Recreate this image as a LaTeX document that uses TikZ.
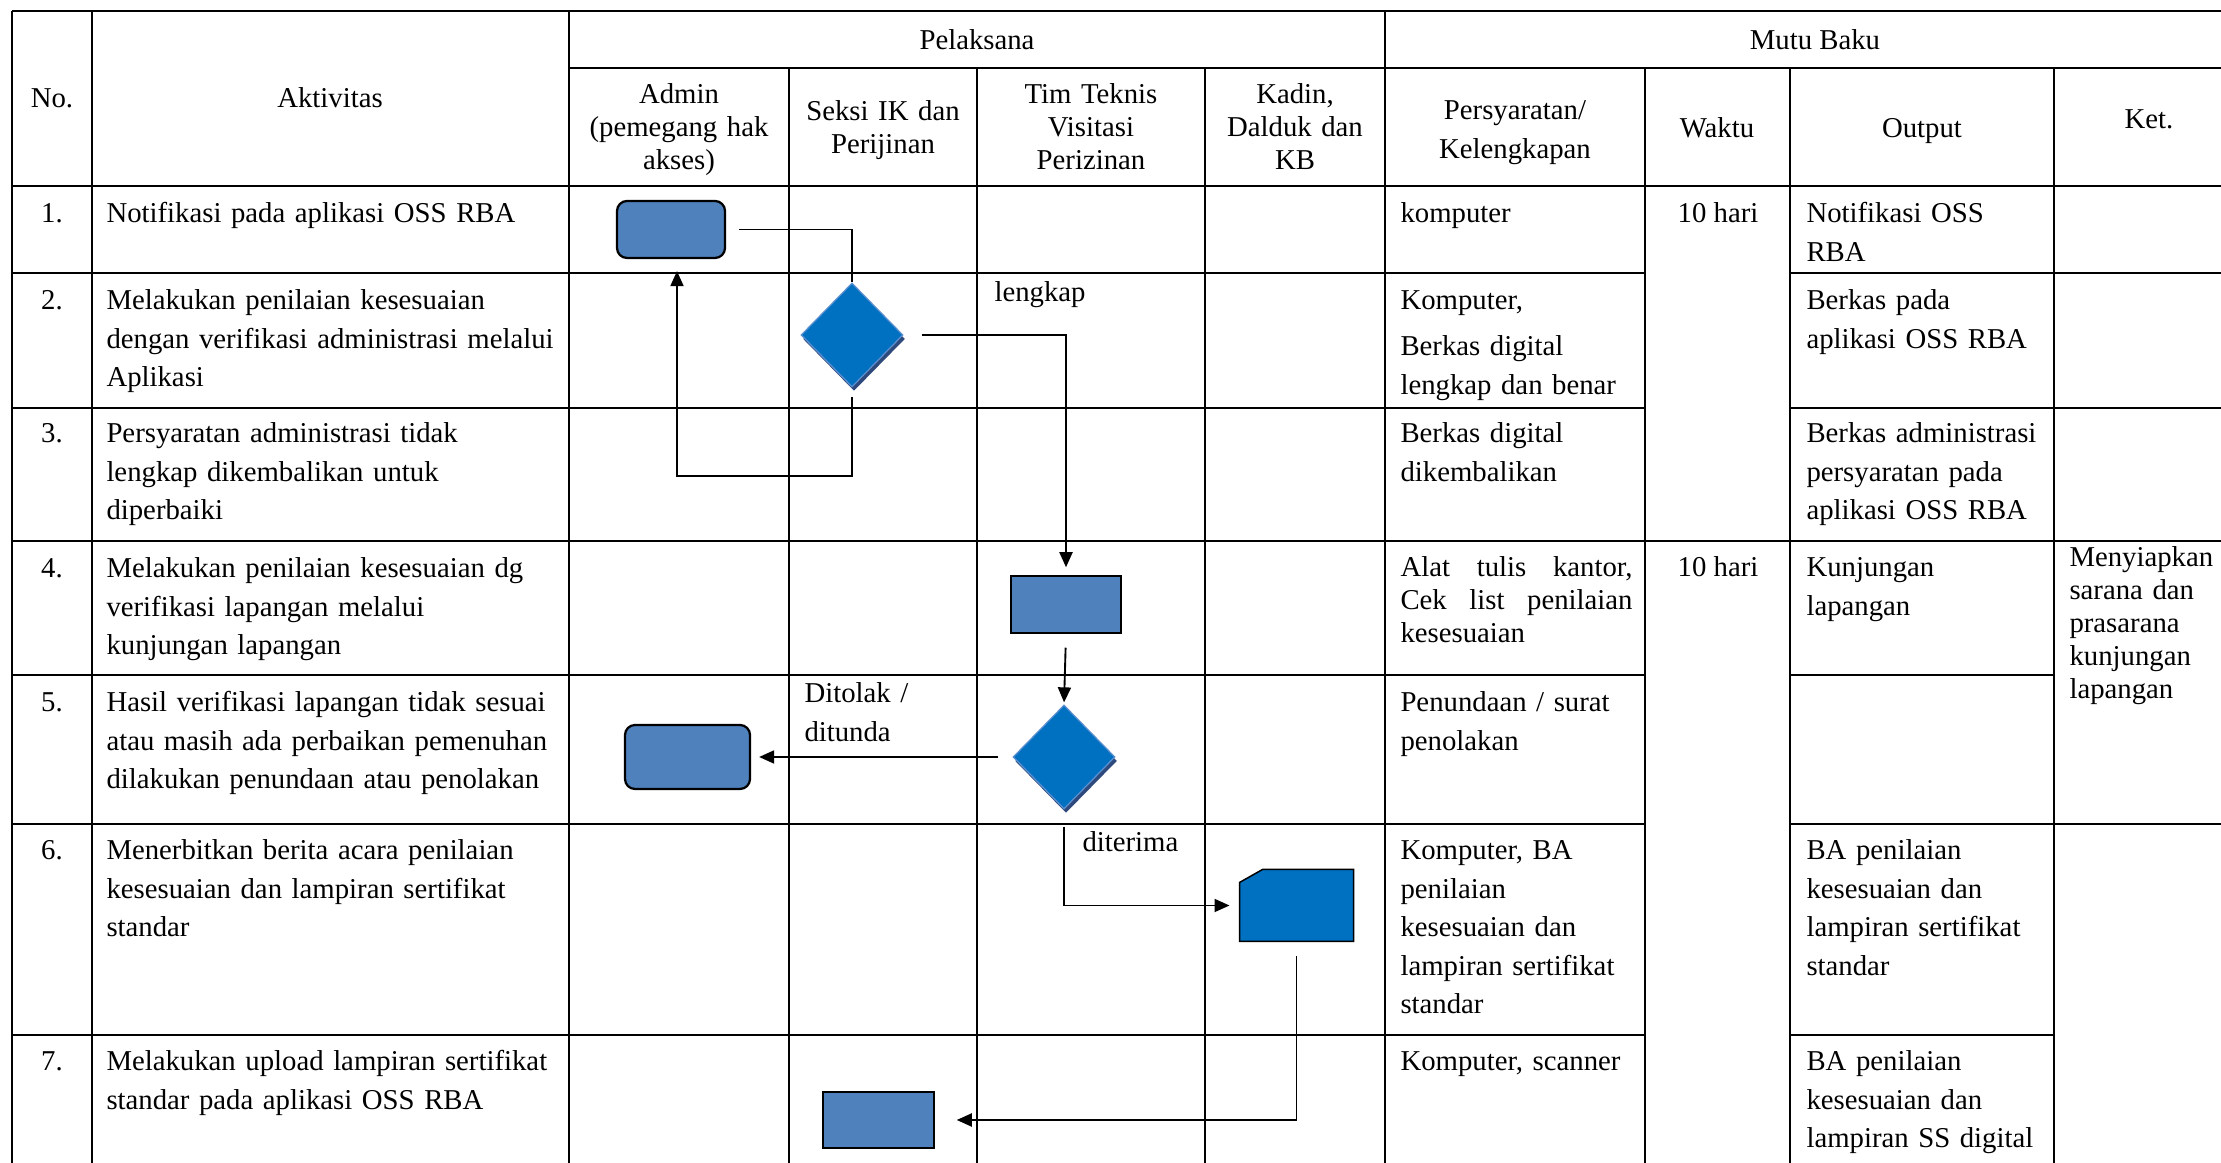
\documentclass[tikz,border=0pt]{standalone}
\usepackage{fontspec}
\setmainfont{Liberation Serif}
\usetikzlibrary{positioning,arrows.meta,shapes.geometric,shadows,calc}

\definecolor{boxblue}{HTML}{4F81BD}
\definecolor{diablue}{HTML}{0070C0}
\definecolor{diaedge}{HTML}{5B8FCF}
\definecolor{diashade}{HTML}{2E4A7D}

\tikzset{
  txt/.style={inner sep=0pt, font=\fontsize{11.5}{15.4}\selectfont},
  cell/.style={txt, anchor=base west, text width=200pt, align=left},
  head/.style={txt, anchor=base, text width=110pt, align=center},
  tight/.style={font=\fontsize{11.5}{13.2}\selectfont},
  hrule/.style={line width=0.9pt},
  vrule/.style={line width=0.5pt},
  flow/.style={line width=0.75pt},
  process/.style={rectangle, draw=black, line width=0.6pt, fill=boxblue, inner sep=0pt},
  terminal/.style={process, rounded corners=4pt, line width=0.9pt},
  decision/.style={diamond, inner sep=0pt, minimum width=40.8pt, minimum height=41.6pt,
    fill=diablue, draw=diaedge, line width=0.5pt,
    general shadow={shadow xshift=0.8pt, shadow yshift=-1.6pt, fill=diashade}},
  cardbox/.style={rectangle, inner sep=0pt, minimum width=45.2pt, minimum height=28.4pt}
}

\begin{document}
\begin{tikzpicture}[x=0.4pt, y=-0.4pt, >={Triangle[length=6pt, width=5.2pt]}]
\useasboundingbox (0,0) rectangle (2221,1163);
\clip (0,0) rectangle (2221,1163);

\foreach \y/\a/\b in {11/12/2245, 68/569/2245, 186/12/2245, 541/12/2245}
  \draw[hrule] (\a,\y) -- (\b,\y);
\foreach \y in {273,408,824}
  \draw[hrule] (12,\y) -- (1645,\y) (1790,\y) -- (2245,\y);
\foreach \y in {675,1035}
  \draw[hrule] (12,\y) -- (1645,\y) (1790,\y) -- (2054,\y);

\foreach \x/\ya in {12/11, 92/11, 569/11, 789/68, 977/68, 1205/68, 1385/11, 1645/68, 1790/68, 2054/68}
  \draw[vrule] (\x,\ya) -- (\x,1035);
\foreach \x in {12,92,569,789,977,1205,1385,1645,1790,2054}
  \draw[hrule] (\x,1035) -- (\x,1163);

\node[txt, anchor=base] (head-no) at (52,108) {No.};
\node[txt, anchor=base] (head-act) at (330,108) {Aktivitas};
\node[txt, anchor=base] (head-exec) at (977,50) {Pelaksana};
\node[txt, anchor=base] (head-std) at (1815,50) {Mutu Baku};
\node[head, tight] (head-admin) at (679,104) {Admin\\(pemegang hak\\akses)};
\node[head, tight] (head-seksi) at (883,121) {Seksi IK dan\\Perijinan};
\node[head, tight] (head-tim) at (1091,104) {Tim Teknis\\Visitasi\\Perizinan};
\node[head, tight] (head-kadin) at (1295,104) {Kadin,\\Dalduk dan\\KB};
\node[head] (head-req) at (1515,120) {Persyaratan/\\Kelengkapan};
\node[txt, anchor=base] (head-time) at (1717,138) {Waktu};
\node[txt, anchor=base] (head-out) at (1922,138) {Output};
\node[txt, anchor=base] (head-note) at (2149,129) {Ket.};

\foreach \n/\y in {1/223, 2/310, 3/443, 4/578, 5/712, 6/860, 7/1071}
  \node[txt, anchor=base] (no-\n) at (52,\y) {\n.};

\foreach \n/\y/\desc in {
    1/223/{Notifikasi pada aplikasi OSS RBA},
    2/310/{Melakukan penilaian kesesuaian\\dengan verifikasi administrasi melalui\\Aplikasi},
    3/443/{Persyaratan administrasi tidak\\lengkap dikembalikan untuk\\diperbaiki},
    4/578/{Melakukan penilaian kesesuaian dg\\verifikasi lapangan melalui\\kunjungan lapangan},
    5/712/{Hasil verifikasi lapangan tidak sesuai\\atau masih ada perbaikan pemenuhan\\dilakukan penundaan atau penolakan},
    6/860/{Menerbitkan berita acara penilaian\\kesesuaian dan lampiran sertifikat\\standar},
    7/1071/{Melakukan upload lampiran sertifikat\\standar pada aplikasi OSS RBA}}
  \node[cell] (act-\n) at (106,\y) {\desc};

\node[cell] (req-1) at (1400,223) {komputer};
\node[cell] (req-2) at (1400,310) {Komputer,\\[3pt]Berkas digital\\lengkap dan benar};
\node[cell] (req-3) at (1400,443) {Berkas digital\\dikembalikan};
\node[cell, tight] (req-4) at (1400,577) {\leavevmode\hbox to 92.8pt{Alat\hfil tulis\hfil kantor,}\\
  \leavevmode\hbox to 92.8pt{Cek\hfil list\hfil penilaian}\\kesesuaian};
\node[cell] (req-5) at (1400,712) {Penundaan / surat\\penolakan};
\node[cell] (req-6) at (1400,860) {Komputer, BA\\penilaian\\kesesuaian dan\\lampiran sertifikat\\standar};
\node[cell] (req-7) at (1400,1071) {Komputer, scanner};

\node[txt, anchor=base] (time-1) at (1718,223) {10 hari};
\node[txt, anchor=base] (time-4) at (1718,577) {10 hari};

\node[cell] (out-1) at (1806,223) {Notifikasi OSS\\RBA};
\node[cell] (out-2) at (1806,310) {Berkas pada\\aplikasi OSS RBA};
\node[cell] (out-3) at (1806,443) {Berkas administrasi\\persyaratan pada\\aplikasi OSS RBA};
\node[cell] (out-4) at (1806,577) {Kunjungan\\lapangan};
\node[cell] (out-6) at (1806,860) {BA penilaian\\kesesuaian dan\\lampiran sertifikat\\standar};
\node[cell] (out-7) at (1806,1071) {BA penilaian\\kesesuaian dan\\lampiran SS digital};

\node[cell, tight] (note-4) at (2069,567) {Menyiapkan\\sarana dan\\prasarana\\kunjungan\\lapangan};

\node[terminal, minimum width=43.2pt, minimum height=22.8pt] (step-1) at (671,229.5) {};
\node[decision] (check-2) at (852,335) {};
\node[process, minimum width=44pt, minimum height=22.8pt] (step-4) at (1066,604.5) {};
\node[decision] (check-5) at (1064,757) {};
\node[terminal, minimum width=50pt, minimum height=25.6pt] (step-5) at (687.5,757) {};
\node[cardbox] (doc-6) at (1296.5,905.5) {};
\filldraw[fill=diablue, draw=black, line width=0.6pt] (doc-6.south west) -- (doc-6.south east)
  -- (doc-6.north east) -- ($(doc-6.north west)+(23,0)$) -- ($(doc-6.north west)+(0,13)$) -- cycle;
\node[process, minimum width=44.4pt, minimum height=22.4pt] (step-7) at (878.5,1120) {};

\draw[flow, shorten <=5.2pt] (step-1.east) -| (check-2.north);
\draw[flow, ->, shorten <=7.2pt, shorten >=3.2pt] (check-2.east) -| (step-4.north);
\draw[flow, ->, shorten <=3.6pt, shorten >=4.8pt] (check-2.south) -- ++(0,88) -| ([xshift=2.4pt]step-1.south);
\draw[flow, ->, shorten <=5.6pt, shorten >=0.8pt] (step-4.south) -- (check-5.north);
\draw[flow, ->, shorten <=5.6pt, shorten >=3.2pt] (check-5.west) -- (step-5.east);
\draw[flow, ->, shorten <=6.8pt, shorten >=4pt] (check-5.south) |- (doc-6.west);
\draw[flow, ->, shorten <=6pt, shorten >=8.8pt] (doc-6.south) |- (step-7.east);

\node[cell] (lbl-ok) at (994,302) {lengkap};
\node[cell] (lbl-no) at (804,703) {Ditolak /\\ditunda};
\node[cell] (lbl-yes) at (1082,852) {diterima};

\end{tikzpicture}
\end{document}
